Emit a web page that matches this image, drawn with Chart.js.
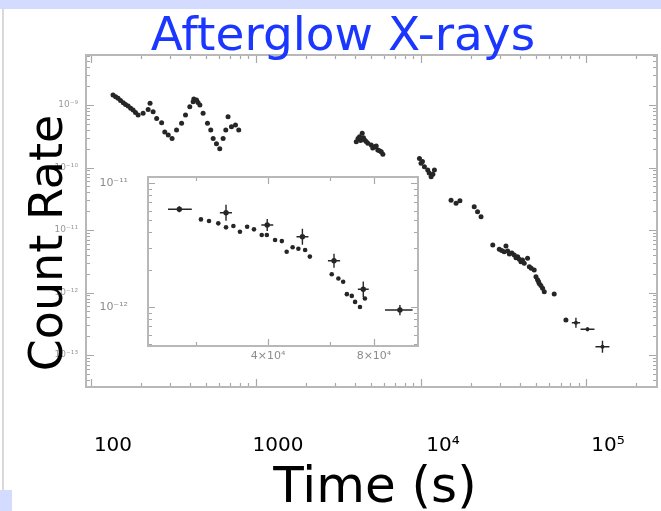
<!DOCTYPE html>
<html>
<head>
<meta charset="utf-8">
<script src="https://cdn.jsdelivr.net/npm/chart.js@4.4.1/dist/chart.umd.min.js"></script>
<style>
  html, body { margin: 0; padding: 0; background: #fff; }
  #wrap { position: relative; width: 661px; height: 511px; overflow: hidden; }
  #mainChart { position: absolute; left: 0; top: 0; }
  #insetChart { position: absolute; left: 90px; top: 165px; }
</style>
</head>
<body>
<div id="wrap">
  <canvas id="mainChart" width="661" height="511"></canvas>
  <canvas id="insetChart" width="335" height="210"></canvas>
</div>
<script>
// full light curve: time since trigger (s) and count rate
const mainTime = [
  136, 141, 146, 151, 157, 162, 168, 174, 180, 186, 193, 207, 222, 228, 238, 250, 268, 280, 294, 310,
  330, 354, 374, 397, 416, 420, 436, 445, 457, 478, 508, 532, 550, 576, 603, 632, 656, 677, 710, 751, 786,
  4050, 4150, 4240, 4300, 4400, 4480, 4550, 4650, 4760, 4990, 5100, 5230, 5350, 5470, 5600, 5740, 5870,
  9780, 10000, 10200, 10480, 10980, 11200, 11510, 11800, 12050,
  15200, 16300, 17200,
  21000, 22000, 23100,
  27200, 29800, 30800, 31900, 32700, 33500, 34300, 35500, 36700, 37600, 38500, 39400, 40300, 41200,
  42200, 44200, 45300, 46500, 48500, 49700, 50800, 51500, 52000, 53200, 54500, 55800,
  64100, 75500
];
const mainRate = [
  1.45e-9, 1.36e-9, 1.28e-9, 1.18e-9, 1.09e-9, 1.02e-9, 9.6e-10, 8.9e-10, 8.3e-10, 7.6e-10, 6.9e-10, 7.4e-10, 8.5e-10, 1.07e-9, 7.8e-10, 6.1e-10, 5.2e-10, 3.7e-10, 3.3e-10, 2.9e-10,
  4.0e-10, 5.1e-10, 6.9e-10, 9.4e-10, 1.13e-9, 1.25e-9, 1.20e-9, 1.10e-9, 1.0e-9, 7.4e-10, 5.1e-10, 4.0e-10, 2.9e-10, 2.4e-10, 2.0e-10, 2.9e-10, 4.0e-10, 6.5e-10, 4.5e-10, 4.8e-10, 4.0e-10,
  2.59e-10, 2.9e-10, 3.11e-10, 2.7e-10, 3.53e-10, 3.0e-10, 2.75e-10, 2.6e-10, 2.44e-10, 2.29e-10, 2.05e-10, 2.15e-10, 2.2e-10, 1.91e-10, 1.85e-10, 1.79e-10, 1.63e-10,
  1.40e-10, 1.17e-10, 1.25e-10, 1.03e-10, 9.1e-11, 8.2e-11, 7.1e-11, 7.8e-11, 9.1e-11,
  3.0e-11, 2.67e-11, 2.94e-11,
  2.36e-11, 1.96e-11, 1.63e-11,
  5.75e-12, 4.91e-12, 4.7e-12, 4.5e-12, 5.55e-12, 4.6e-12, 4.13e-12, 4.3e-12, 3.98e-12, 3.6e-12, 3.74e-12, 3.4e-12, 3.11e-12, 3.3e-12,
  2.93e-12, 3.52e-12, 2.59e-12, 2.45e-12, 2.29e-12, 1.79e-12, 1.6e-12, 1.5e-12, 1.4e-12, 1.3e-12, 1.17e-12, 1.03e-12,
  9.46e-13, 3.63e-13
];

// late binned points with error bars
const mainCrossTime   = [86800, 102000, 125700];
const mainCrossRate   = [3.29e-13, 2.58e-13, 1.36e-13];
const mainCrossTimeLo = [82000, 92600, 114000];
const mainCrossTimeHi = [92000, 112400, 138500];
const mainCrossRateLo = [2.74e-13, 2.40e-13, 1.09e-13];
const mainCrossRateHi = [3.95e-13, 2.78e-13, 1.70e-13];

const mainTimeTicks = [100, 1000, 1e4, 1e5];
const mainTimeLabels = ['100', '1000', '10⁴', '10⁵'];
const mainRateTicks = [1e-9, 1e-10, 1e-11, 1e-12, 1e-13];
const mainRateLabels = ['10⁻⁹', '10⁻¹⁰', '10⁻¹¹', '10⁻¹²', '10⁻¹³'];

// zoom on the late decay
const insetTime = [25800, 27200, 28900, 30400, 31900, 33300, 34900, 36500, 38400, 39700, 41900, 43800, 45200,
  47000, 48800, 51000, 52600, 60700, 63400, 65400, 67000, 69200, 70700, 73000, 75400];
const insetRate = [5.09e-12, 4.94e-12, 4.73e-12, 4.39e-12, 4.50e-12, 4.05e-12, 4.44e-12, 4.23e-12, 3.81e-12, 3.81e-12, 3.47e-12, 3.40e-12, 2.79e-12,
  3.03e-12, 2.95e-12, 2.88e-12, 2.55e-12, 1.84e-12, 1.70e-12, 1.60e-12, 1.27e-12, 1.23e-12, 1.10e-12, 1.00e-12, 1.17e-12];

const insetCrossTime   = [22400, 30400, 39800, 50100, 61600, 74600, 94800];
const insetCrossRate   = [6.14e-12, 5.76e-12, 4.58e-12, 3.69e-12, 2.36e-12, 1.39e-12, 9.47e-13];
const insetCrossTimeLo = [20800, 29200, 38300, 48200, 59200, 72000, 86000];
const insetCrossTimeHi = [24300, 31600, 41400, 52100, 64100, 77300, 103000];
const insetCrossRateLo = [5.8e-12, 4.97e-12, 4.10e-12, 3.18e-12, 2.07e-12, 1.20e-12, 8.6e-13];
const insetCrossRateHi = [6.5e-12, 6.68e-12, 5.12e-12, 4.28e-12, 2.69e-12, 1.61e-12, 1.04e-12];

const insetTimeTicks = [4e4, 8e4];
const insetTimeLabels = ['4×10⁴', '8×10⁴'];
const insetTimeMarks = [25000, 40000, 60000, 80000];
const insetRateTicks = [1e-11, 1e-12];
const insetRateLabels = ['10⁻¹¹', '10⁻¹²'];

const SLIDE_FONT = '"Comic Sans MS", "DejaVu Sans", sans-serif';
const MARK = '#262626';

const toPoints = (xs, ys) => xs.map((x, i) => ({ x, y: ys[i] }));
const toErrPoints = (xs, ys, xlo, xhi, ylo, yhi) =>
  xs.map((x, i) => ({ x, y: ys[i], xMin: xlo[i], xMax: xhi[i], yMin: ylo[i], yMax: yhi[i] }));

// 1..9 x 10^n positions inside [min, max]
const logMarks = (min, max) => {
  const out = [];
  for (let e = Math.floor(Math.log10(min)); e <= Math.ceil(Math.log10(max)); e++) {
    for (let k = 1; k < 10; k++) {
      const v = k * Math.pow(10, e);
      if (v >= min && v <= max) out.push({ value: v, major: k === 1 });
    }
  }
  return out;
};

// grey box with inward ticks on every side
const frameTicks = {
  id: 'frameTicks',
  beforeDatasetsDraw(chart, args, opts) {
    const { ctx, chartArea: a, scales: { x, y } } = chart;
    ctx.save();
    ctx.fillStyle = '#fff';
    ctx.fillRect(a.left, a.top, a.width, a.height);
    ctx.strokeStyle = '#a8a8a8';
    ctx.lineWidth = 1.2;
    ctx.beginPath();
    opts.xMarks.forEach(t => {
      const px = Math.round(x.getPixelForValue(t.value)) + 0.5;
      const len = t.major ? opts.major : opts.minor;
      ctx.moveTo(px, a.bottom); ctx.lineTo(px, a.bottom - len);
      ctx.moveTo(px, a.top); ctx.lineTo(px, a.top + len);
    });
    opts.yMarks.forEach(t => {
      const py = Math.round(y.getPixelForValue(t.value)) + 0.5;
      const len = t.major ? opts.major : opts.minor;
      ctx.moveTo(a.left, py); ctx.lineTo(a.left + len, py);
      ctx.moveTo(a.right, py); ctx.lineTo(a.right - len, py);
    });
    ctx.stroke();
    ctx.strokeStyle = '#b8b8b8';
    ctx.lineWidth = 2;
    ctx.strokeRect(a.left, a.top, a.width, a.height);
    ctx.restore();
  }
};

const errorBars = {
  id: 'errorBars',
  afterDatasetsDraw(chart) {
    const { ctx, scales: { x, y } } = chart;
    chart.data.datasets.forEach(ds => {
      if (!ds.withErrors) return;
      ctx.save();
      ctx.strokeStyle = ds.backgroundColor;
      ctx.lineWidth = 1.4;
      ctx.beginPath();
      ds.data.forEach(p => {
        const px = x.getPixelForValue(p.x), py = y.getPixelForValue(p.y);
        ctx.moveTo(x.getPixelForValue(p.xMin), py); ctx.lineTo(x.getPixelForValue(p.xMax), py);
        ctx.moveTo(px, y.getPixelForValue(p.yMin)); ctx.lineTo(px, y.getPixelForValue(p.yMax));
      });
      ctx.stroke();
      ctx.restore();
    });
  }
};

// slide heading and the big axis captions
const slideText = {
  id: 'slideText',
  afterDraw(chart) {
    const ctx = chart.ctx;
    ctx.save();
    ctx.fillStyle = '#d3dbff';
    ctx.fillRect(0, 0, 661, 9);
    ctx.fillRect(0, 490, 12, 21);
    ctx.strokeStyle = '#cccccc';
    ctx.lineWidth = 1.5;
    ctx.beginPath(); ctx.moveTo(3, 9); ctx.lineTo(3, 490); ctx.stroke();

    ctx.textAlign = 'center';
    ctx.textBaseline = 'alphabetic';
    ctx.fillStyle = '#1a36ff';
    ctx.font = '47px ' + SLIDE_FONT;
    ctx.fillText('Afterglow X-rays', 343, 50);

    ctx.fillStyle = '#000';
    ctx.font = '50px ' + SLIDE_FONT;
    ctx.fillText('Time (s)', 375, 502);

    ctx.translate(62, 243);
    ctx.rotate(-Math.PI / 2);
    ctx.font = '46px ' + SLIDE_FONT;
    ctx.fillText('Count Rate', 0, 0);
    ctx.restore();
  }
};

const mainX = { min: 93.3, max: 2.69e5 };
const mainY = { min: 3.08e-14, max: 6.31e-9 };

new Chart(document.getElementById('mainChart'), {
  type: 'scatter',
  data: {
    datasets: [
      { data: toPoints(mainTime, mainRate), backgroundColor: MARK, pointRadius: 2.5, borderWidth: 0 },
      {
        data: toErrPoints(mainCrossTime, mainCrossRate, mainCrossTimeLo, mainCrossTimeHi, mainCrossRateLo, mainCrossRateHi),
        backgroundColor: MARK, pointRadius: 2, borderWidth: 0, withErrors: true
      }
    ]
  },
  options: {
    responsive: false,
    animation: false,
    devicePixelRatio: 1,
    layout: { padding: { left: 0, top: 55, right: 3, bottom: 0 } },
    plugins: {
      legend: { display: false },
      tooltip: { enabled: false },
      frameTicks: { xMarks: logMarks(mainX.min, mainX.max), yMarks: logMarks(mainY.min, mainY.max), major: 8, minor: 4 }
    },
    scales: {
      x: {
        type: 'logarithmic', min: mainX.min, max: mainX.max,
        grid: { display: false, drawTicks: false }, border: { display: false },
        afterBuildTicks: s => { s.ticks = mainTimeTicks.map(v => ({ value: v })); },
        afterFit: s => { s.height = 124; },
        ticks: {
          autoSkip: false, maxRotation: 0, padding: 47, labelOffset: 22, color: '#000',
          font: { family: SLIDE_FONT, size: 20 },
          callback: (v, i) => mainTimeLabels[i]
        }
      },
      y: {
        type: 'logarithmic', min: mainY.min, max: mainY.max,
        grid: { display: false, drawTicks: false }, border: { display: false },
        afterBuildTicks: s => { s.ticks = mainRateTicks.map(v => ({ value: v })); },
        afterFit: s => { s.width = 86; },
        ticks: {
          autoSkip: false, padding: 8, color: '#9a9a9a',
          font: { family: 'DejaVu Sans', size: 9 },
          callback: (v, i) => mainRateLabels[i]
        }
      }
    }
  },
  plugins: [frameTicks, errorBars, slideText]
});

const insetX = { min: 1.825e4, max: 1.067e5 };
const insetY = { min: 4.85e-13, max: 1.118e-11 };

new Chart(document.getElementById('insetChart'), {
  type: 'scatter',
  data: {
    datasets: [
      { data: toPoints(insetTime, insetRate), backgroundColor: MARK, pointRadius: 2.3, borderWidth: 0 },
      {
        data: toErrPoints(insetCrossTime, insetCrossRate, insetCrossTimeLo, insetCrossTimeHi, insetCrossRateLo, insetCrossRateHi),
        backgroundColor: MARK, pointRadius: 2.7, borderWidth: 0, withErrors: true
      }
    ]
  },
  options: {
    responsive: false,
    animation: false,
    devicePixelRatio: 1,
    layout: { padding: { left: 0, top: 12, right: 7, bottom: 0 } },
    plugins: {
      legend: { display: false },
      tooltip: { enabled: false },
      frameTicks: {
        xMarks: insetTimeMarks.map(v => ({ value: v, major: insetTimeTicks.includes(v) })),
        yMarks: logMarks(insetY.min, insetY.max), major: 7, minor: 4
      }
    },
    scales: {
      x: {
        type: 'logarithmic', min: insetX.min, max: insetX.max,
        grid: { display: false, drawTicks: false }, border: { display: false },
        afterBuildTicks: s => { s.ticks = insetTimeTicks.map(v => ({ value: v })); },
        afterFit: s => { s.height = 29; s.paddingLeft = 0; s.paddingRight = 0; },
        ticks: {
          autoSkip: false, maxRotation: 0, padding: 4, color: '#8c8c8c',
          font: { family: 'DejaVu Sans', size: 11 },
          callback: (v, i) => insetTimeLabels[i]
        }
      },
      y: {
        type: 'logarithmic', min: insetY.min, max: insetY.max,
        grid: { display: false, drawTicks: false }, border: { display: false },
        afterBuildTicks: s => { s.ticks = insetRateTicks.map(v => ({ value: v })); },
        // labels sit well left of the box; keep them from pushing the box down
        afterFit: s => { s.width = 58; s.paddingTop = 0; s.paddingBottom = 0; },
        ticks: {
          autoSkip: false, padding: 20, color: '#8c8c8c',
          font: { family: 'DejaVu Sans', size: 11 },
          callback: (v, i) => insetRateLabels[i]
        }
      }
    }
  },
  plugins: [frameTicks, errorBars]
});
</script>
</body>
</html>
